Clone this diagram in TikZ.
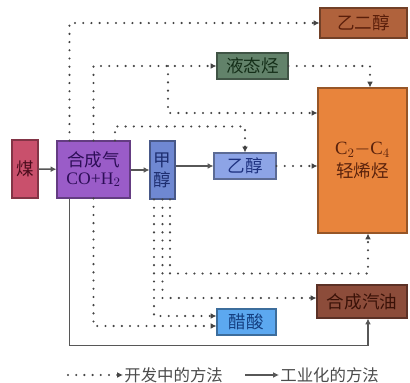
\documentclass[tikz,border=0pt]{standalone}
\usepackage{fontspec}
\setmainfont{Liberation Serif}
\newfontfamily\cjk{Noto Sans CJK SC}
\usetikzlibrary{arrows.meta}
\definecolor{coalF}{HTML}{C9506C}
\definecolor{coalT}{HTML}{4A0C1C}
\definecolor{synF}{HTML}{9A5CC8}
\definecolor{synT}{HTML}{2E0E58}
\definecolor{methF}{HTML}{6F88D2}
\definecolor{methT}{HTML}{1E2E70}
\definecolor{ethF}{HTML}{8DA4E6}
\definecolor{ethT}{HTML}{1E3280}
\definecolor{liqF}{HTML}{62826A}
\definecolor{liqT}{HTML}{142E18}
\definecolor{egF}{HTML}{B0623C}
\definecolor{egT}{HTML}{5A1E0A}
\definecolor{olefF}{HTML}{E8843C}
\definecolor{olefT}{HTML}{5A220C}
\definecolor{gasF}{HTML}{8C4C3A}
\definecolor{gasT}{HTML}{3A1208}
\definecolor{acetF}{HTML}{5CA8F0}
\definecolor{acetT}{HTML}{143E80}
\definecolor{lineC}{HTML}{444444}
\tikzset{
  box/.style={draw=#1!65!black, fill=#1, line width=0.9pt, inner sep=0pt, font=\cjk\fontsize{15}{17}\selectfont},
  dev/.style={draw=lineC, line width=2pt, line cap=round, dash pattern=on 0pt off 7pt, -{Latex[length=5pt,width=5pt,line cap=butt]}},
  ind/.style={draw=lineC!90, line width=1.2pt, -{Latex[length=5pt,width=5pt]}},
}
\begin{document}
\begin{tikzpicture}[x=0.03cm,y=-0.03cm]
\useasboundingbox (0,0) rectangle (410,383);
\fill[white] (0,0) rectangle (410,383);
% nodes
\node[box=coalF, text=coalT, minimum width=0.78cm, minimum height=1.74cm] (coal) at (25,169) {煤};
\node[box=synF, text=synT, minimum width=2.19cm, minimum height=1.71cm, align=center] (syn) at (93.5,169.5) {合成气\\[-2pt]\rmfamily CO+H$_2$};
\node[box=methF, text=methT, minimum width=0.75cm, minimum height=1.74cm, align=center] (meth) at (162.5,170) {甲\\醇};
\node[box=ethF, text=ethT, minimum width=1.86cm, minimum height=0.78cm] (eth) at (245,166) {乙醇};
\node[box=olefF, text=olefT, minimum width=2.67cm, minimum height=4.35cm, align=center] (olef) at (362.5,160.5) {\rmfamily\fontsize{16}{18}\selectfont C$_2$$-$C$_4$\\[2pt]轻烯烃};
\node[box=egF, text=egT, minimum width=2.61cm, minimum height=0.9cm] (eg) at (363.5,23) {乙二醇};
\node[box=liqF, text=liqT, minimum width=2.13cm, minimum height=0.78cm] (liq) at (252.5,66) {液态烃};
\node[box=gasF, text=gasT, minimum width=2.7cm, minimum height=0.99cm] (gas) at (362,301.5) {合成汽油};
\node[box=acetF, text=acetT, minimum width=1.77cm, minimum height=0.78cm] (acet) at (246.5,322) {醋酸};
% industrial routes
\draw[ind] (coal) -- (syn);
\draw[ind] (syn.east |- meth) -- (meth.west);
\draw[ind] (meth.east |- eth) -- (eth.west);
\draw[ind] ([xshift=.39cm]syn.south west) -- ++(0,-4.41cm) -| ([xshift=.18cm]gas.south);
% developing routes
\draw[dev] (eth.east) -- (eth.east -| olef.west);
\draw[dev] ([xshift=.39cm]syn.north west) |- (eg.west);
\draw[dev] (syn.north) |- (liq.west);
\coordinate (br) at (168,66);
\draw[dev] (br) |- ([yshift=1.425cm]olef.west);
\draw[dev] (liq.east) -| ([xshift=.225cm]olef.north);
\draw[dev] ([xshift=.645cm]syn.north) -- ++(0,0.42cm) -| (eth.north);
\draw[dev] (syn.south) |- ([yshift=-.12cm]acet.west);
\draw[dev] ([xshift=-.255cm]meth.south) |- ([yshift=.18cm]acet.west);
\draw[dev] (meth.south) |- ([yshift=.105cm]gas.west);
\draw[dev] ([xshift=.225cm]meth.south) -- ++(0,-2.22cm) -| ([xshift=.165cm]olef.south);
% legend
\coordinate (l0) at (68,375);
\node[anchor=west, inner sep=1pt, text=black!70, font=\cjk\fontsize{14}{16}\selectfont] (l1) at (123,375) {开发中的方法};
\coordinate (l2) at (245,375);
\node[anchor=west, inner sep=1pt, text=black!70, font=\cjk\fontsize{14}{16}\selectfont] (l3) at (279,375) {工业化的方法};
\draw[dev] (l0) -- (l1.west);
\draw[ind] (l2) -- (l3.west);
\end{tikzpicture}
\end{document}
